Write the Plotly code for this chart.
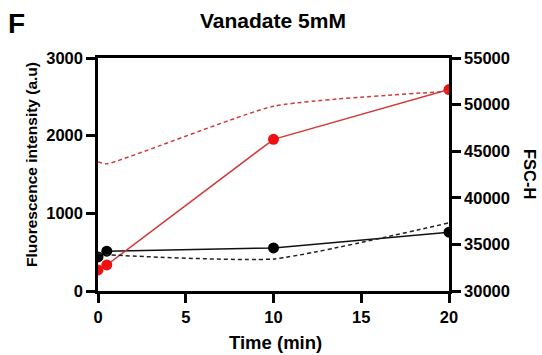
import plotly.graph_objects as go

time = [0, 0.5, 10, 20]
fluo_black = [439, 512, 555, 757]
fluo_red = [271, 335, 1953, 2594]
fsc_black = [34050, 33900, 33440, 37310]
fsc_red = [43840, 43650, 49820, 51430]
x_ticks = [0, 5, 10, 15, 20]
y_ticks = [0, 1000, 2000, 3000]
y2_ticks = [30000, 35000, 40000, 45000, 50000, 55000]

RED = "#ee1111"
RED_LINE = "#d23a3a"
FONT = "Liberation Sans, Arial, sans-serif"

fig = go.Figure()
fig.add_trace(go.Scatter(x=time, y=fsc_black, yaxis="y2", mode="lines",
                         line=dict(color="#222222", width=1.5, dash="4px,3px", shape="spline", smoothing=0.5)))
fig.add_trace(go.Scatter(x=time, y=fsc_red, yaxis="y2", mode="lines",
                         line=dict(color=RED_LINE, width=1.5, dash="4px,3px", shape="spline", smoothing=0.5)))
fig.add_trace(go.Scatter(x=time, y=fluo_black, mode="lines+markers",
                         line=dict(color="#111111", width=1.5),
                         marker=dict(color="#000000", size=11)))
fig.add_trace(go.Scatter(x=time, y=fluo_red, mode="lines+markers",
                         line=dict(color=RED_LINE, width=1.5),
                         marker=dict(color=RED, size=11)))

axis_common = dict(showgrid=False, zeroline=False, showline=True, linecolor="black",
                   linewidth=2.5, ticks="outside", ticklen=9, tickwidth=2.5, tickcolor="black",
                   tickfont=dict(family=FONT, size=16.5, color="black", weight="bold"))

fig.update_layout(
    width=542, height=355,
    margin=dict(l=98, r=93, t=58, b=64),
    paper_bgcolor="white", plot_bgcolor="white",
    showlegend=False,
    xaxis=dict(range=[0, 20], tickvals=x_ticks, ticktext=[str(v) for v in x_ticks],
               mirror=True, **axis_common),
    yaxis=dict(range=[0, 3000], tickvals=y_ticks, ticktext=[str(v) for v in y_ticks], **axis_common),
    yaxis2=dict(range=[30000, 55000], tickvals=y2_ticks, ticktext=[str(v) for v in y2_ticks],
                overlaying="y", side="right", **axis_common),
    annotations=[
        dict(text="<b>F</b>", x=16, y=24, showarrow=False,
             font=dict(family=FONT, size=28, color="black")),
        dict(text="<b>Vanadate 5mM</b>", x=273, y=20, showarrow=False,
             font=dict(family=FONT, size=21, color="black")),
        dict(text="<b>Time (min)</b>", x=275, y=342, showarrow=False,
             font=dict(family=FONT, size=18.5, color="black")),
        dict(text="<b>Fluorescence intensity (a.u)</b>", x=31, y=165, showarrow=False,
             textangle=-90, font=dict(family=FONT, size=15.5, color="black")),
        dict(text="<b>FSC-H</b>", x=530, y=174, showarrow=False,
             textangle=90, font=dict(family=FONT, size=16.5, color="black")),
    ],
)

# convert pixel-positioned annotations to paper coordinates
W, H = 542, 355
l, r, t, b = 98, 93, 58, 64
pw, ph = W - l - r, H - t - b
new_ann = []
for a in fig.layout.annotations:
    d = a.to_plotly_json()
    d["x"] = (d["x"] - l) / pw
    d["y"] = (H - b - d["y"]) / ph
    d["xref"] = "paper"
    d["yref"] = "paper"
    d["xanchor"] = "center"
    d["yanchor"] = "middle"
    new_ann.append(d)
fig.layout.annotations = new_ann

fig.write_html("out.html")
